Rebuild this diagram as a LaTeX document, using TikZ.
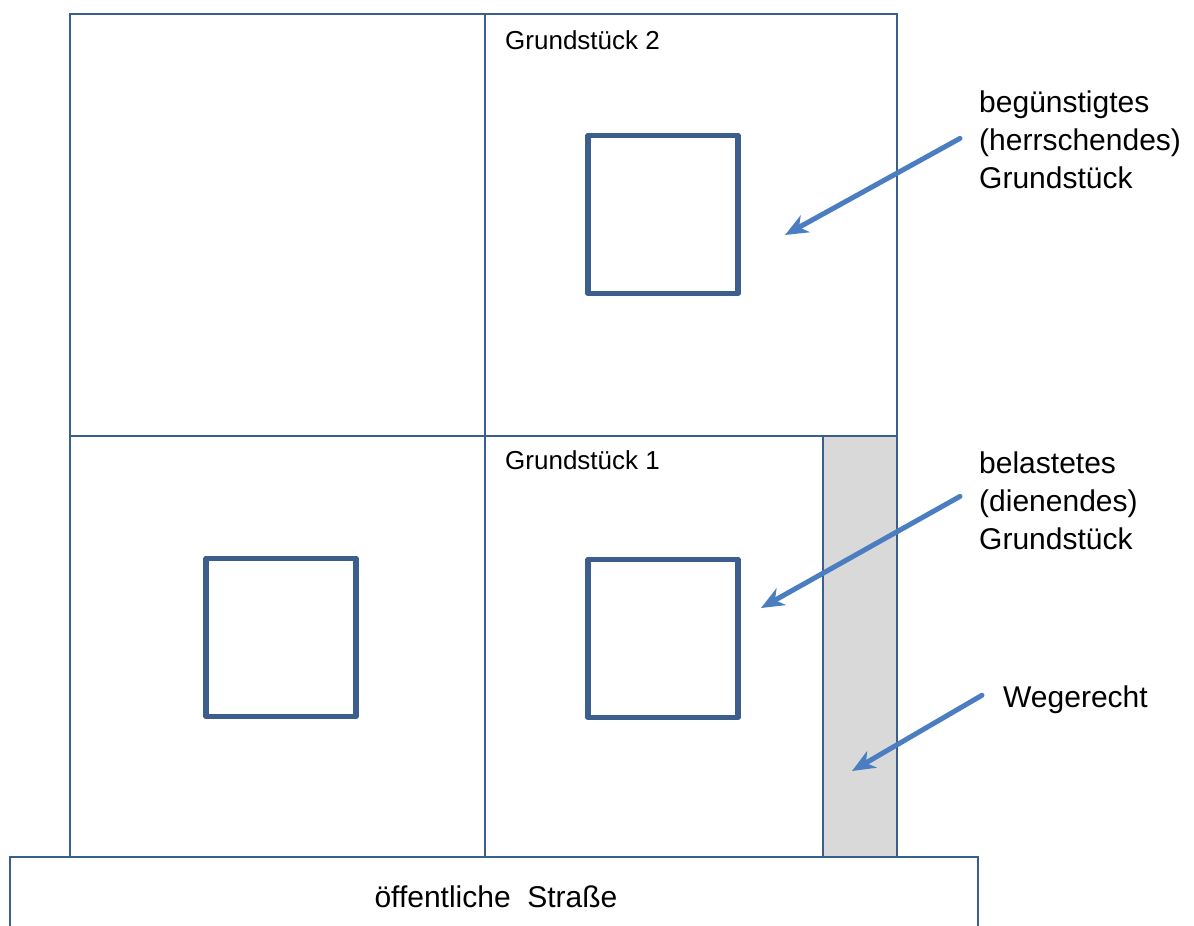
\documentclass[tikz,border=0pt]{standalone}
\usepackage{fontspec}
\setmainfont{Liberation Sans}
\usetikzlibrary{arrows.meta}
\definecolor{lotline}{RGB}{59,94,140}
\definecolor{pointercol}{RGB}{74,126,193}
\definecolor{easement}{RGB}{217,217,217}
\tikzset{
  lot/.style={draw=lotline, line width=2.3pt},
  house/.style={draw=lotline, line width=5.5pt, line join=round, rectangle,
                minimum width=150pt, minimum height=158pt, inner sep=0pt},
  plotlabel/.style={anchor=base west, inner sep=0pt, font=\fontsize{26}{30}\selectfont},
  sidelabel/.style={anchor=base west, inner sep=0pt, font=\fontsize{30}{38}\selectfont},
  pointer/.style={draw=pointercol, line width=5pt, line cap=round,
                  -{Stealth[length=23pt, width=19pt, inset=7pt]}}
}
\begin{document}
\begin{tikzpicture}[x=1pt, y=-1pt]
\useasboundingbox (0,0) rectangle (1194,926);

% right-of-way strip along the east edge of plot 1
\fill[easement] (823,436) rectangle (897,857);

% plot boundaries
\draw[lot] (70,857) -- (70,14) -- (897,14) -- (897,857);
\draw[lot] (485,14) -- (485,857);
\draw[lot] (70,436) -- (897,436);
\draw[lot] (823,436) -- (823,857);

% public road
\draw[lot] (10,935) -- (10,857) -- (978,857) -- (978,935);
\node[inner sep=0pt, anchor=base, font=\fontsize{30}{34}\selectfont] (road) at (496,907) {öffentliche~~Straße};

% buildings
\node[house] (h2) at (663,214.5) {};
\node[house] (h0) at (281,637.5) {};
\node[house] (h1) at (663,638.5) {};

% plot names
\node[plotlabel] (g2) at (505,49) {Grundstück 2};
\node[plotlabel] (g1) at (505,469) {Grundstück 1};

% explanatory labels
\node[sidelabel] (dom) at (979,112) {\begin{tabular}[t]{@{}l@{}}begünstigtes\\(herrschendes)\\Grundstück\end{tabular}};
\node[sidelabel] (serv) at (979,473) {\begin{tabular}[t]{@{}l@{}}belastetes\\(dienendes)\\Grundstück\end{tabular}};
\node[sidelabel] (way) at (1003,707) {Wegerecht};

% arrow targets
\coordinate (t2) at (785,235);
\coordinate (t1) at (761,608);
\coordinate (tw) at (852,771);

% pointers
\draw[pointer] ([xshift=-19pt,yshift=4pt]dom.west) -- (t2);
\draw[pointer] ([xshift=-19pt,yshift=7pt]serv.west) -- (t1);
\draw[pointer] ([xshift=-21pt,yshift=4pt]way.west) -- (tw);
\end{tikzpicture}
\end{document}
